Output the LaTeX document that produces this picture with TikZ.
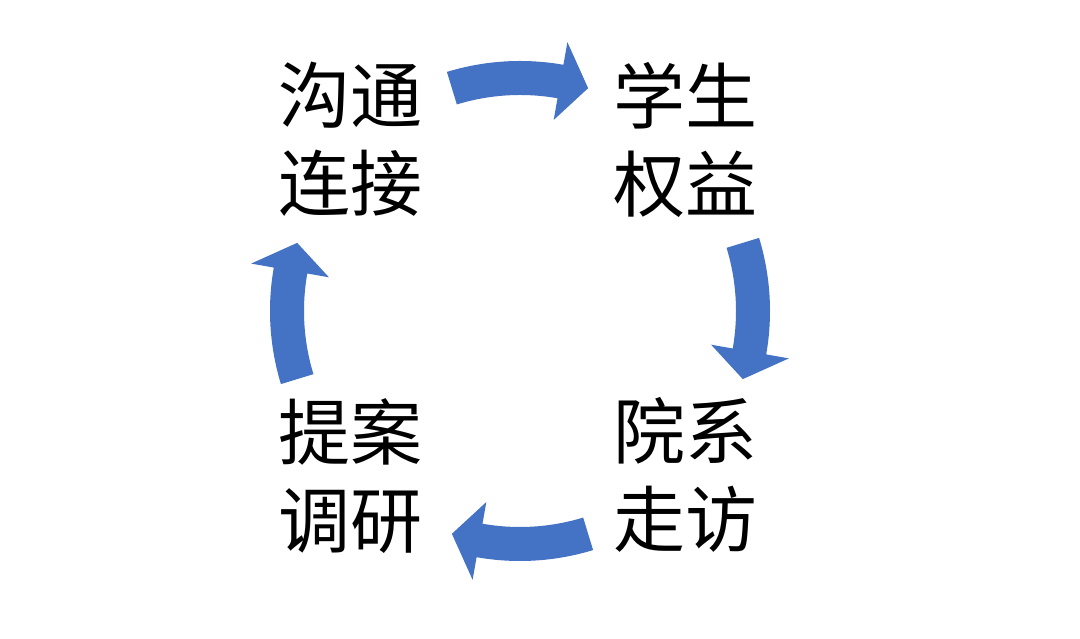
\documentclass[tikz,border=0pt]{standalone}
\usepackage{fontspec}
\newfontfamily\cjk{Noto Sans CJK SC}
\definecolor{arrowblue}{HTML}{4472C4}
\tikzset{
  cyclearrow/.style={fill=arrowblue, draw=none},
  lbl/.style={font=\cjk\fontsize{72}{88}\selectfont, align=center, inner sep=0pt, text=black}
}
\begin{document}
\begin{tikzpicture}[x=1pt,y=1pt]
\useasboundingbox (0,0) rectangle (1080,639);
\fill[white] (0,0) rectangle (1080,639);
\coordinate (C) at (520,328);
\begin{scope}[shift={(C)}]
\foreach \t in {90,0,-90,-180}{
  \pgfmathsetmacro\ta{\t+17}
  \pgfmathsetmacro\tb{\t-10}
  \pgfmathsetmacro\tc{\t-17}
  \fill[cyclearrow] (\ta:250) arc[start angle=\ta, end angle=\tb, radius=250]
     -- (\tb:273) -- (\tc:233) -- (\tb:194) -- (\tb:216)
     arc[start angle=\tb, end angle=\ta, radius=216] -- cycle;
}
\end{scope}
\node[lbl] (a) at (350.5,499.5) {沟通\\连接};
\node[lbl] (b) at (685,499) {学生\\权益};
\node[lbl] (c) at (685,164) {院系\\走访};
\node[lbl] (d) at (350,163) {提案\\调研};
\end{tikzpicture}
\end{document}
